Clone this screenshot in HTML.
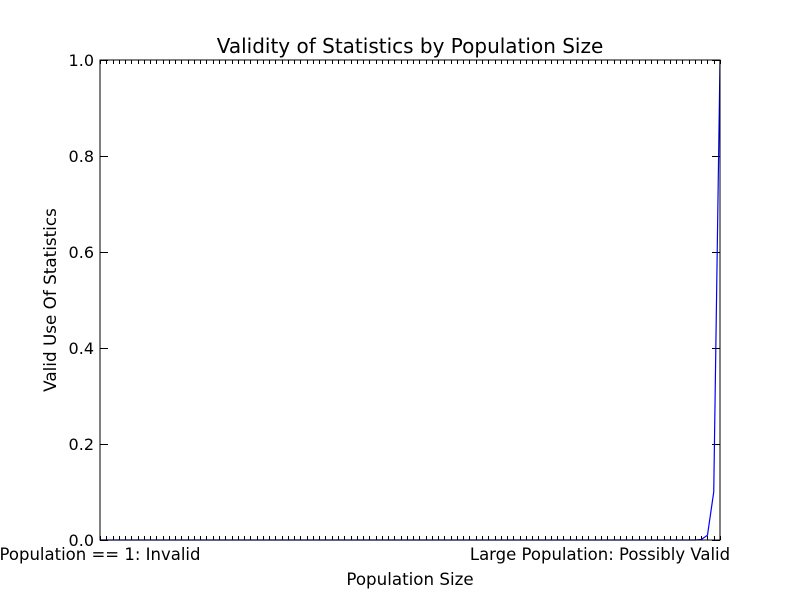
<!DOCTYPE html>
<html><head><meta charset="utf-8"><style>
body{margin:0;background:#fff;}
svg text{font-family:"DejaVu Sans","Liberation Sans",sans-serif;}
</style></head><body>
<svg width="800" height="600" xmlns="http://www.w3.org/2000/svg">
<rect width="800" height="600" fill="#fff"/>
<g id="ticks"></g>
<polyline id="line" fill="none" stroke="#0000ff" stroke-width="1.2"/>
<rect x="100" y="60" width="620" height="480" fill="none" stroke="#000" stroke-width="1"/>
<text x="410" y="53" font-size="20" text-anchor="middle">Validity of Statistics by Population Size</text>
<text x="410" y="585" font-size="16.7" text-anchor="middle">Population Size</text>
<text transform="translate(56,300) rotate(-90)" font-size="16.8" text-anchor="middle">Valid Use Of Statistics</text>
<g id="labels"></g>
</svg>
<script>
const nPoints = 100;
const lastValues = [0.001, 0.01, 0.1, 1.0];
const yTicks = [0, 0.2, 0.4, 0.6, 0.8, 1.0];
const yTickLabels = ["0.0","0.2","0.4","0.6","0.8","1.0"];
const xLabels = ["Population == 1: Invalid", "Large Population: Possibly Valid"];
const xLabelCenters = [100, 600];
const values = [];
for (let i = 0; i < nPoints - lastValues.length; i++) values.push(0);
lastValues.forEach(v => values.push(v));

const X = i => 100 + i * 620 / (nPoints - 1);
const Y = v => 540 - v * 480;
const ns = "http://www.w3.org/2000/svg";
const tg = document.getElementById('ticks');
function ln(x1,y1,x2,y2,name){
  const l=document.createElementNS(ns,'line');
  l.setAttribute('x1',x1);l.setAttribute('y1',y1);l.setAttribute('x2',x2);l.setAttribute('y2',y2);
  l.setAttribute('stroke','#000');l.setAttribute('stroke-width','1');
  
  
  tg.appendChild(l);
}
for (let i = 0; i < nPoints; i++) {
  const x = Math.round(X(i)) + 0.5;
  ln(x,540,x,536,'x-tick-bottom');
  ln(x,60,x,64,'x-tick-top');
}
const lg = document.getElementById('labels');
yTicks.forEach((v,k) => {
  const y = Math.round(Y(v)) + 0.5;
  ln(100,y,108,y,'y-tick-left');
  ln(720,y,712,y,'y-tick-right');
  const t=document.createElementNS(ns,'text');
  t.setAttribute('x',94);t.setAttribute('y',Y(v)+6);t.setAttribute('font-size','16');t.setAttribute('text-anchor','end');
  t.textContent = yTickLabels[k];
  
  
  lg.appendChild(t);
});
xLabels.forEach((s,k) => {
  const t=document.createElementNS(ns,'text');
  t.setAttribute('x',xLabelCenters[k]);t.setAttribute('y',560);t.setAttribute('font-size','16.5');t.setAttribute('text-anchor','middle');
  t.textContent = s;
  
  
  lg.appendChild(t);
});
document.getElementById('line').setAttribute('points', values.map((v,i)=>X(i)+','+Y(v)).join(' '));
</script>
</body></html>
